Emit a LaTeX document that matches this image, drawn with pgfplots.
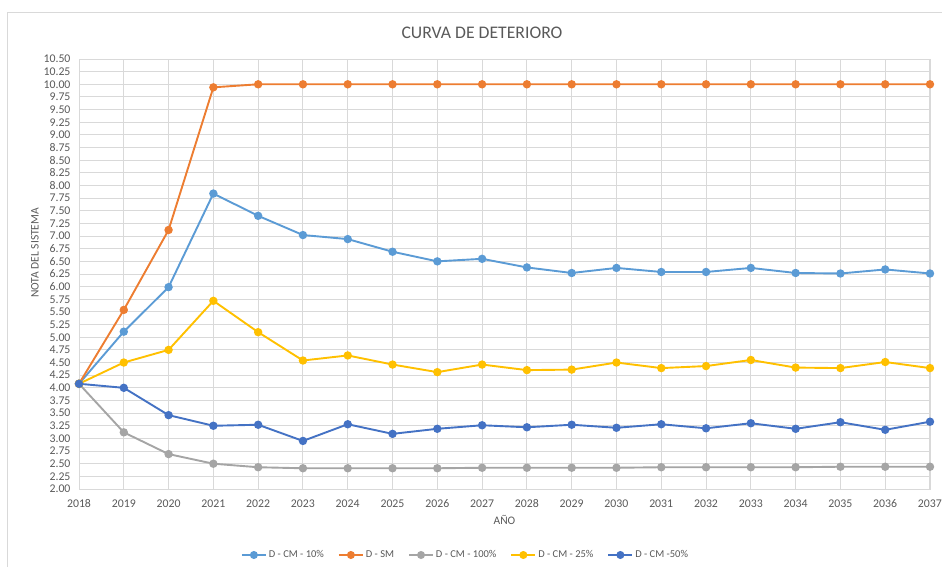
\documentclass[border=0pt]{standalone}
\usepackage{pgfplots}
\pgfplotsset{compat=1.18}
\usepackage{fontspec}
\setmainfont{Carlito}
\definecolor{c10}{HTML}{5B9BD5}
\definecolor{csm}{HTML}{ED7D31}
\definecolor{c100}{HTML}{A5A5A5}
\definecolor{c25}{HTML}{FFC000}
\definecolor{c50}{HTML}{4472C4}
\definecolor{txt}{HTML}{595959}
\definecolor{gridc}{HTML}{D9D9D9}
\begin{document}
\begin{tikzpicture}[x=1pt,y=1pt]
\useasboundingbox (0,0) rectangle (942,567);
\draw[gridc, line width=0.9pt] (7,0) -- (7,555) -- (942,555);
\node[text=txt, font=\fontsize{17.7}{21}\selectfont] at (482,534) {CURVA DE DETERIORO};
\begin{axis}[at={(79pt,78pt)}, anchor=south west, scale only axis,
  width=851pt, height=430pt,
  xmin=2018, xmax=2037, ymin=2, ymax=10.5,
  xtick={2018,...,2037}, ytick distance=0.25,
  xmajorgrids, ymajorgrids,
  grid style={gridc, line width=0.9pt},
  axis line style={gridc, line width=0.9pt},
  major tick style={draw=none},
  /pgf/number format/assume math mode=true,
  ticklabel style={text=txt, font=\fontsize{11.8}{13}\selectfont},
  yticklabel style={xshift=-5pt, /pgf/number format/.cd, fixed, fixed zerofill, precision=2},
  xticklabel style={yshift=-7pt, /pgf/number format/.cd, 1000 sep={}},
  xlabel={AÑO}, ylabel={NOTA DEL SISTEMA},
  label style={text=txt, font=\fontsize{11.5}{14}\selectfont},
  xlabel style={at={(axis description cs:0.5,0)}, anchor=center, yshift=-31pt},
  ylabel style={at={(axis description cs:0,0.549)}, anchor=center, rotate=0, yshift=44pt},
  every axis plot/.append style={line width=1.9pt, mark=*, mark size=3.2pt},
  legend columns=5,
  legend style={at={(axis description cs:0.5,0)}, anchor=center, xshift=-39pt, yshift=-66pt,
    draw=none, font=\fontsize{10.5}{12}\selectfont, text=txt,
    /tikz/every even column/.append style={column sep=12pt}},
  legend image code/.code={\draw[#1, line width=1.9pt] (0pt,0pt) -- (24pt,0pt); \fill[#1] (12pt,0pt) circle (3pt);},
]
\addplot[c10, mark options={fill=c10}] coordinates {
(2018,4.08) (2019,5.11) (2020,5.99) (2021,7.84) (2022,7.40) (2023,7.02) (2024,6.94)
(2025,6.69) (2026,6.50) (2027,6.55) (2028,6.38) (2029,6.27) (2030,6.37) (2031,6.29)
(2032,6.29) (2033,6.37) (2034,6.27) (2035,6.26) (2036,6.34) (2037,6.26)};
\addlegendentry{D - CM - 10\%}
\addplot[csm, mark options={fill=csm}] coordinates {
(2018,4.08) (2019,5.54) (2020,7.12) (2021,9.94) (2022,10) (2023,10) (2024,10)
(2025,10) (2026,10) (2027,10) (2028,10) (2029,10) (2030,10) (2031,10)
(2032,10) (2033,10) (2034,10) (2035,10) (2036,10) (2037,10)};
\addlegendentry{D - SM}
\addplot[c100, mark options={fill=c100}] coordinates {
(2018,4.08) (2019,3.12) (2020,2.69) (2021,2.50) (2022,2.43) (2023,2.41) (2024,2.41)
(2025,2.41) (2026,2.41) (2027,2.42) (2028,2.42) (2029,2.42) (2030,2.42) (2031,2.43)
(2032,2.43) (2033,2.43) (2034,2.43) (2035,2.44) (2036,2.44) (2037,2.44)};
\addlegendentry{D - CM - 100\%}
\addplot[c25, mark options={fill=c25}] coordinates {
(2018,4.08) (2019,4.50) (2020,4.75) (2021,5.72) (2022,5.10) (2023,4.54) (2024,4.64)
(2025,4.46) (2026,4.31) (2027,4.46) (2028,4.35) (2029,4.36) (2030,4.50) (2031,4.39)
(2032,4.43) (2033,4.55) (2034,4.40) (2035,4.39) (2036,4.51) (2037,4.39)};
\addlegendentry{D - CM - 25\%}
\addplot[c50, mark options={fill=c50}] coordinates {
(2018,4.08) (2019,4.00) (2020,3.46) (2021,3.25) (2022,3.27) (2023,2.95) (2024,3.28)
(2025,3.09) (2026,3.19) (2027,3.26) (2028,3.22) (2029,3.27) (2030,3.21) (2031,3.28)
(2032,3.20) (2033,3.30) (2034,3.19) (2035,3.32) (2036,3.17) (2037,3.33)};
\addlegendentry{D - CM -50\%}
\end{axis}
\end{tikzpicture}
\end{document}
